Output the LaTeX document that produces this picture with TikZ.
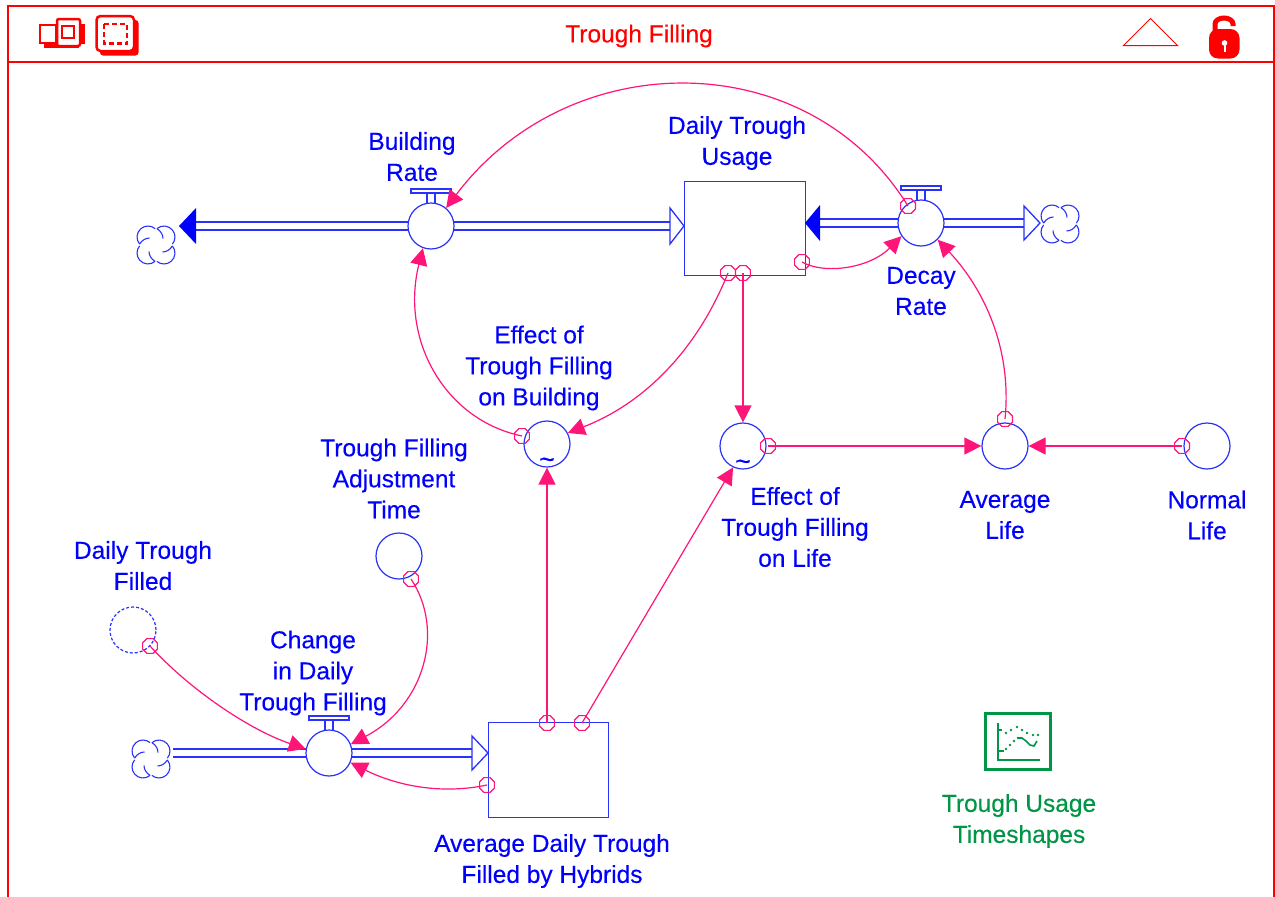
\documentclass[tikz,border=0pt]{standalone}
\usepackage{fontspec}
\setmainfont{Liberation Sans}[FakeBold=0.25]
\usetikzlibrary{arrows.meta,backgrounds,shapes.geometric}
\definecolor{sfblue}{RGB}{0,0,255}
\definecolor{lineblue}{RGB}{40,50,250}
\definecolor{sfpink}{RGB}{255,20,120}
\definecolor{sfred}{RGB}{255,0,0}
\definecolor{sfgreen}{RGB}{0,150,70}
\tikzset{
  conv/.style={circle,draw=lineblue,fill=white,line width=1.2pt,minimum size=46pt,inner sep=0pt},
  stockbox/.style={rectangle,draw=lineblue,fill=white,line width=1.2pt,inner sep=0pt,anchor=north west},
  ring/.style={regular polygon,regular polygon sides=8,draw=sfpink,line width=1.2pt,minimum size=16pt,inner sep=0pt},
  conn/.style={draw=sfpink,line width=1.2pt,-{Triangle[length=17pt,width=17pt,fill=sfpink]}},
  pipe/.style={draw=lineblue,double=white,line width=1.4pt,double distance=6.5pt},
  lbl/.style={font=\fontsize{24.5}{31}\selectfont,align=center,text=sfblue,inner sep=0pt},
  tildemark/.style={font=\fontsize{27}{27}\selectfont,text=sfblue,inner sep=0pt},
  hollowhead/.style={draw=lineblue,fill=white,line width=1.3pt,line join=miter},
  valvepart/.style={draw=lineblue,fill=white,line width=1.2pt},
  cloudy/.pic={
    \begin{scope}[y=1pt,x=1pt]
    \foreach \a in {0,90,180,270}
      \draw[lineblue,line width=1.1pt,rotate=\a] (0.9,16.4) arc[start angle=130,end angle=-40,radius=11pt]
        (0.9,16.4) .. controls (5,14) and (7,10) .. (7,6.5);
    \end{scope}
  },
  valvetop/.pic={
    \begin{scope}[y=1pt,x=1pt]
    \draw[valvepart] (-4,22) -- (-4,33) (4,22) -- (4,33);
    \draw[valvepart] (-20,33) rectangle (20,37);
    \end{scope}
  }
}
\begin{document}
\begin{tikzpicture}[x=1pt,y=-1pt]
\useasboundingbox (0,0) rectangle (1275,897);
\begin{scope}[on background layer]
\fill[white] (0,0) rectangle (1275,897);
\end{scope}

% window frame
\draw[sfred,line width=2pt] (8,897) -- (8,6) -- (1274,6) -- (1274,897);
\draw[sfred,line width=2pt] (8,62) -- (1274,62);
\node[font=\fontsize{24.5}{31}\selectfont,text=sfred,inner sep=0pt] (title) at (639,36) {Trough Filling};

% title bar icons
\fill[sfred] (44,37) rectangle (79,48);
\fill[sfred] (80,24) rectangle (84.5,44);
\draw[sfred,line width=2.5pt,fill=white] (40,25) rectangle (56,43);
\draw[sfred,line width=2.5pt,fill=white,rounded corners=2pt] (57,19) rectangle (80,46);
\draw[sfred,line width=2.5pt] (62,26) rectangle (74,38);
\fill[sfred,rounded corners=3pt] (100,20) rectangle (138.5,55.5);
\draw[sfred,line width=2.5pt,fill=white,rounded corners=4pt] (96.5,16) rectangle (134,51);
\draw[sfred,line width=2.5pt,dash pattern=on 5pt off 3pt] (104,24) rectangle (127,43.5);
\draw[sfred,line width=1pt] (1123.5,45.5) -- (1150.5,18.5) -- (1177.5,45.5) -- cycle;
\draw[sfred,line width=5pt] (1215,32) -- (1215,24) arc[start angle=180,end angle=0,radius=9pt,y radius=6pt] -- (1233,26);
\fill[sfred,rounded corners=9pt] (1209,29) rectangle (1239.5,58.5);
\fill[white] (1224.5,43) circle[radius=2.8pt];
\fill[white] (1223.5,43) rectangle (1225.5,52);

% stocks
\node[stockbox,minimum width=121pt,minimum height=94pt] (stockU) at (684,181) {};
\node[stockbox,minimum width=120pt,minimum height=95pt] (stockH) at (488,722) {};

% converters and valves
\node[conv] (valveB) at (431,226) {};
\node[conv] (valveD) at (921,223) {};
\node[conv] (valveC) at (329,753) {};
\node[conv] (effB) at (547,444) {};
\node[conv] (effL) at (743,446) {};
\node[conv] (avgL) at (1005,446) {};
\node[conv] (normL) at (1207,446) {};
\node[conv] (adjT) at (399,556) {};
\node[conv,dash pattern=on 3pt off 2pt] (filled) at (133,630) {};
\node[tildemark] (tildeB) at (547,463) {\textasciitilde};
\node[tildemark] (tildeL) at (743,465) {\textasciitilde};

\pic at (valveB.center) {valvetop};
\pic at (valveD.center) {valvetop};
\pic at (valveC.center) {valvetop};

% clouds
\coordinate (cloudL) at (156,245);
\coordinate (cloudR) at (1060,224);
\coordinate (cloudC) at (151,759);
\pic at (cloudL) {cloudy};
\pic at (cloudR) {cloudy};
\pic at (cloudC) {cloudy};

% pipes
\coordinate (endL) at (196,226);
\coordinate (endS) at (670,226);
\coordinate (endD) at (820,223);
\coordinate (endR) at (1024,223);
\coordinate (startC) at (173,753);
\coordinate (endC) at (472,753);
\begin{scope}[on background layer]
\draw[pipe] (valveB.center) -- (endL);
\draw[pipe] (valveB.center) -- (endS);
\draw[pipe] (valveD.center) -- (endD);
\draw[pipe] (valveD.center) -- (endR);
\draw[pipe] (startC) -- (valveC.center);
\draw[pipe] (valveC.center) -- (endC);
\end{scope}
\fill[sfblue] (endL) ++(-17,0) -- ++(17,-18) -- ++(0,36) -- cycle;
\fill[sfblue] (endD) ++(-15,0) -- ++(15,-18) -- ++(0,36) -- cycle;
\draw[hollowhead] (endS) ++(0,-18) -- ++(14,18) -- ++(-14,18) -- cycle;
\draw[hollowhead] (endR) ++(0,-17) -- ++(16,17) -- ++(-16,17) -- cycle;
\draw[hollowhead] (endC) ++(0,-17) -- ++(16,17) -- ++(-16,17) -- cycle;

% rings
\node[ring] (rDecay) at (908,206) {};
\node[ring] (rU1) at (728,273) {};
\node[ring] (rU2) at (743,273) {};
\node[ring] (rU3) at (802,262) {};
\node[ring] (rEffB) at (522,436) {};
\node[ring] (rEffL) at (768,446) {};
\node[ring] (rAvg) at (1005,419) {};
\node[ring] (rNorm) at (1182,446) {};
\node[ring] (rH1) at (547,723) {};
\node[ring] (rH2) at (582,723) {};
\node[ring] (rH3) at (487,785) {};
\node[ring] (rAdj) at (411,579) {};
\node[ring] (rFill) at (150,646) {};

% connectors
\draw[conn] (rDecay.center) .. controls (808,44) and (570,44) .. (valveB.50);
\draw[conn] (rEffB.center) .. controls (445,420) and (400,340) .. (valveB.-110);
\draw[conn] (rU1.center) .. controls (695,355) and (640,405) .. (effB.28);
\draw[conn] (rU2.center) -- (effL.north);
\draw[conn] (rU3.center) .. controls (825,275) and (870,268) .. (valveD.214);
\draw[conn] (rAvg.center) .. controls (1012,350) and (985,290) .. (valveD.-45);
\draw[conn] (rEffL.center) -- (avgL.west);
\draw[conn] (rNorm.center) -- (avgL.east);
\draw[conn] (rH1.center) -- (effB.south);
\draw[conn] (rH2.center) -- (effL.245);
\draw[conn] (rAdj.center) .. controls (445,630) and (425,705) .. (valveC.22);
\draw[conn] (rFill.center) .. controls (190,690) and (250,730) .. (valveC.170);
\draw[conn] (rH3.center) .. controls (440,795) and (395,785) .. (valveC.-24);

% labels
\node[lbl] (tBuild) at (412,156.5) {Building\\Rate};
\node[lbl] (tUsage) at (737,143) {Daily Trough\\Usage};
\node[lbl] (tDecay) at (921,291) {Decay\\Rate};
\node[lbl] (tEffB) at (539,368) {Effect of\\Trough Filling\\on Building};
\node[lbl] (tAdj) at (394,478.5) {Trough Filling\\Adjustment\\Time};
\node[lbl] (tEffL) at (795,527) {Effect of\\Trough Filling\\on Life};
\node[lbl] (tAvg) at (1005,515) {Average\\Life};
\node[lbl] (tNorm) at (1207,515) {Normal\\Life};
\node[lbl] (tFilled) at (143,565.5) {Daily Trough\\Filled};
\node[lbl] (tChange) at (313,673) {Change\\in Daily\\Trough Filling};
\node[lbl] (tHyb) at (552,861) {Average Daily Trough\\Filled by Hybrids};
\node[lbl,text=sfgreen] (tTime) at (1019,821) {Trough Usage\\Timeshapes};

% timeshape icon
\node[rectangle,draw=sfgreen,line width=2.5pt,minimum width=65pt,minimum height=56pt,inner sep=0pt] (chartbox) at (1018,741.5) {};
\draw[sfgreen,line width=2pt] (998,723) -- (998,760) -- (1040,760);
\draw[sfgreen,line width=2pt] (998,730) -- (1002,730) (998,751) -- (1004,751);
\foreach \px/\py in {1006/733, 1011/730, 1017/727, 1022/730, 1027/733, 1033/735, 1038/735}
  \fill[sfgreen] (\px,\py) circle[radius=1.4pt];
\foreach \px/\py in {1006/749, 1010/745, 1014/741, 1018/738}
  \fill[sfgreen] (\px,\py) circle[radius=1.4pt];
\draw[sfgreen,line width=1.6pt] (1018,738) -- (1022,738) -- (1026,741) -- (1030,745) -- (1034,746) -- (1037,741);
\end{tikzpicture}
\end{document}
